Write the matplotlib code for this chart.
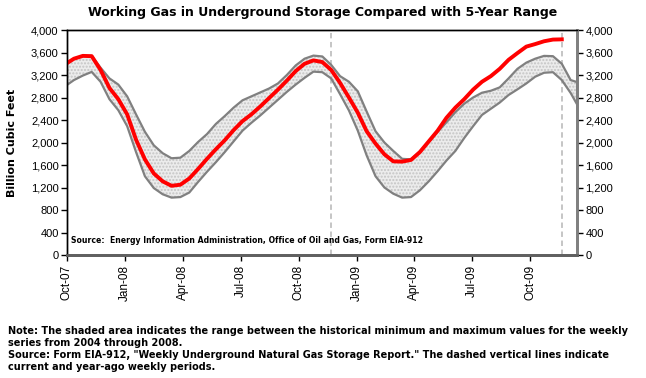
import numpy as np
import pandas as pd
import matplotlib
matplotlib.use("Agg")
import matplotlib.pyplot as plt
import matplotlib.dates as mdates

# biweekly sample dates (Fridays)
dates = pd.date_range("2007-09-28", periods=59, freq="14D")

# 5-year maximum (Bcf)
range_max = [3390, 3490, 3540, 3540, 3330, 3140, 3030, 2820, 2500, 2190,
             1950, 1810, 1720, 1730, 1850, 2010, 2150, 2330, 2470, 2620,
             2750, 2820, 2890, 2960, 3050, 3200, 3370, 3490, 3545, 3530,
             3380, 3180, 3080, 2910, 2550, 2200, 2000, 1850, 1710, 1700,
             1840, 2010, 2190, 2360, 2540, 2690, 2800, 2885, 2920, 2980,
             3140, 3310, 3420, 3490, 3540, 3535, 3400, 3110, 3060]

# 5-year minimum (Bcf)
range_min = [3000, 3110, 3190, 3255, 3080, 2770, 2575, 2290, 1830, 1400,
             1190, 1080, 1020, 1030, 1110, 1300, 1480, 1650, 1830, 2020,
             2210, 2350, 2480, 2620, 2760, 2900, 3030, 3150, 3260, 3250,
             3140, 2860, 2570, 2210, 1770, 1400, 1200, 1090, 1020, 1030,
             1150, 1310, 1490, 1680, 1850, 2080, 2290, 2490, 2600, 2710,
             2845, 2945, 3050, 3170, 3240, 3250, 3110, 2880, 2600]

# working gas in storage (Bcf), ends at the current week
storage = [3390, 3490, 3540, 3535, 3290, 2970, 2770, 2500, 2050, 1700,
           1450, 1310, 1230, 1250, 1360, 1530, 1710, 1880, 2040, 2220,
           2380, 2500, 2640, 2790, 2940, 3100, 3270, 3400, 3460, 3430,
           3290, 3060, 2800, 2530, 2200, 1980, 1790, 1665, 1660, 1690,
           1830, 2020, 2210, 2440, 2620, 2770, 2940, 3080, 3180, 3310,
           3470, 3590, 3705, 3750, 3800, 3830, 3834]

current_weeks = ["2008-11-21", "2009-11-20"]
yticks = list(range(0, 4001, 400))

plt.rcParams["font.family"] = ["Liberation Sans", "DejaVu Sans"]

fig = plt.figure(figsize=(6.46, 3.78), dpi=100)
ax = fig.add_axes([0.1037, 0.3254, 0.7895, 0.5952])

# shaded 5-year range, fine gray stipple
ax.fill_between(dates, range_min, range_max, facecolor="#ececec",
                edgecolor="#c4c4c4", hatch=".....", linewidth=0, zorder=1)
ax.plot(dates, range_max, color="#808080", lw=1.6, zorder=2)
ax.plot(dates, range_min, color="#808080", lw=1.6, zorder=2)
ax.plot(dates[:len(storage)], storage, color="#ff0000", lw=2.8, zorder=3)

for d in current_weeks:
    ax.axvline(pd.Timestamp(d), color="#c0c0c0", ls=(0, (3, 2)), lw=1.3, zorder=0)

ax.set_xlim(pd.Timestamp("2007-10-01"), pd.Timestamp("2009-12-14"))
ax.set_ylim(0, 4000)
ax.set_yticks(yticks)
ax.set_yticklabels([f"{v:,}" for v in yticks], fontsize=8)
ax.tick_params(axis="y", direction="out", length=4, width=1, pad=2)

ax.xaxis.set_major_locator(mdates.MonthLocator(bymonth=[1, 4, 7, 10]))
ax.xaxis.set_major_formatter(mdates.DateFormatter("%b-%y"))
ax.tick_params(axis="x", direction="out", length=4, width=1, pad=3, labelsize=8.5)
plt.setp(ax.get_xticklabels(), rotation=90)

ax2 = ax.twinx()
ax2.set_ylim(0, 4000)
ax2.set_yticks(yticks)
ax2.set_yticklabels([f"{v:,}" for v in yticks], fontsize=8)
ax2.tick_params(axis="y", direction="out", length=4, width=1, pad=2)

for a in (ax, ax2):
    a.spines["top"].set_color("black")
    a.spines["top"].set_linewidth(1)
    a.spines["left"].set_color("black")
    a.spines["left"].set_linewidth(1)
    a.spines["right"].set_color("#808080")
    a.spines["right"].set_linewidth(2)
    a.spines["bottom"].set_color("#606060")
    a.spines["bottom"].set_linewidth(2)

ax.set_ylabel("Billion Cubic Feet", fontsize=8, fontweight="bold",
              family="DejaVu Sans", labelpad=10)

ax.text(0.008, 0.055, "Source:  Energy Information Administration, Office of Oil and Gas, Form EIA-912",
        transform=ax.transAxes, fontsize=5.6, fontweight="bold", family="DejaVu Sans")

fig.text(0.5, 0.968, "Working Gas in Underground Storage Compared with 5-Year Range",
         ha="center", va="center", fontsize=9, fontweight="bold", family="DejaVu Sans")

note = ("Note: The shaded area indicates the range between the historical minimum and maximum values for the weekly\n"
        "series from 2004 through 2008.\n"
        "Source: Form EIA-912, \"Weekly Underground Natural Gas Storage Report.\" The dashed vertical lines indicate\n"
        "current and year-ago weekly periods.")
fig.text(0.0125, 0.077, note, ha="left", va="center", fontsize=7, fontweight="bold",
         family="DejaVu Sans", linespacing=1.25)

fig.savefig("out.png", dpi=100, facecolor="white")
